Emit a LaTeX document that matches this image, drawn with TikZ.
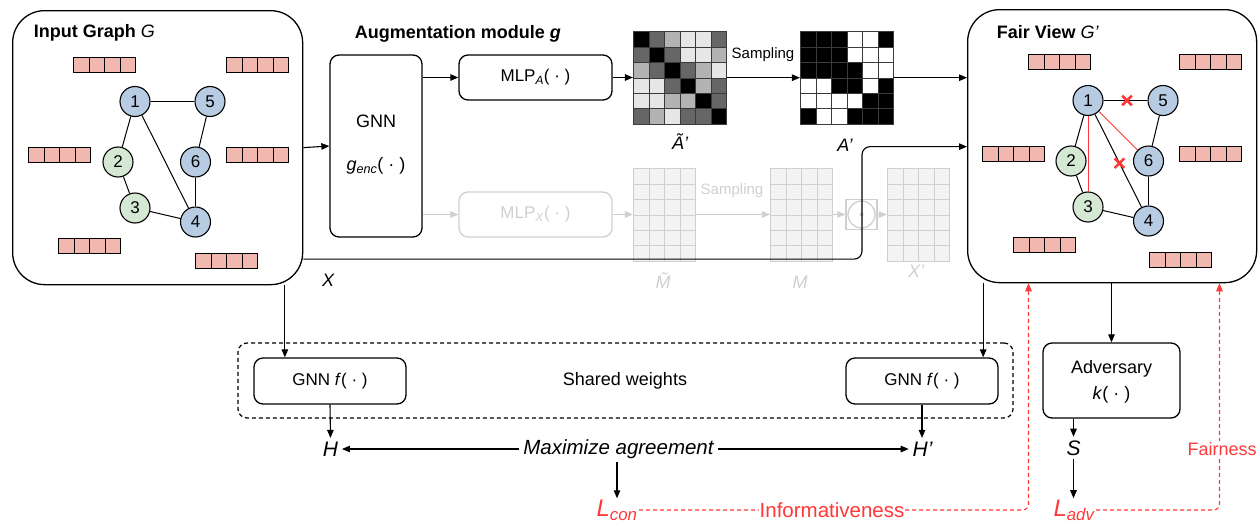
\documentclass[tikz,border=0pt]{standalone}
\usepackage{fontspec}
\setmainfont{Liberation Sans}
\usetikzlibrary{arrows.meta,calc,shapes.misc}
\definecolor{nblue}{HTML}{B7CBE3}
\definecolor{ngreen}{HTML}{D5E8D4}
\definecolor{fpink}{HTML}{F1B8B0}
\definecolor{lred}{HTML}{FF3838}
\definecolor{lgray}{HTML}{CFCFCF}
\definecolor{lfill}{HTML}{F3F3F3}
\definecolor{mgrid}{HTML}{3A3A3A}
\definecolor{mK}{HTML}{000000}
\definecolor{mB}{HTML}{666666}
\definecolor{mC}{HTML}{B3B3B3}
\definecolor{mD}{HTML}{E6E6E6}
\definecolor{mW}{HTML}{FFFFFF}
\newcommand\fsz[1]{\fontsize{#1}{#1}\selectfont}
\newcommand\featvec[2]{\foreach \k in {0,...,3}{\draw[fill=fpink, line width=1.3pt] ({#1+0.5+ceil(15.5*\k)},{#2+0.5}) rectangle ({#1+0.5+ceil(15.5*(\k+1))},{#2+15.5});}}
\begin{document}
\begin{tikzpicture}[x=1pt,y=-1pt,
  >={Triangle[length=8pt,width=6.5pt]},
  line width=1.1pt,
  arr/.style={->, line width=1.1pt},
  garr/.style={->, draw=lgray, line width=1.1pt},
  rdash/.style={draw=lred, dash pattern=on 4pt off 3pt, line width=1.1pt},
  bigbox/.style={draw, rounded corners=32pt, line width=1.3pt, anchor=north west},
  rbox/.style={draw, rounded corners=9pt, line width=1.3pt},
  gnode/.style={circle, draw, line width=1.1pt, minimum size=30pt, inner sep=0pt, font=\fsz{17}},
  gedge/.style={line width=1pt},
  ttl/.style={anchor=west, font=\bfseries\fsz{18}},
  xmark/.style={cross out, draw=lred, line width=2.6pt, minimum size=7pt, inner sep=0pt},
  gmat/.style={draw=lgray, fill=lfill, line width=1.3pt},
  mcell/.style={draw=mgrid, line width=1.1pt}
]
\useasboundingbox (0,0) rectangle (1260,522);

% ---------- Input graph ----------
\node[bigbox, minimum width=290pt, minimum height=274pt] (ig) at (12,10) {};
\node[ttl] (igt) at (30,33) {Input Graph {\mdseries\itshape G}};
\featvec{73}{57}\featvec{226}{57}\featvec{28}{147}\featvec{226}{147}\featvec{58}{238}\featvec{195}{253}

% ---------- Fair view ----------
\node[bigbox, minimum width=289pt, minimum height=273pt] (fv) at (967,9) {};
\node[ttl] (fvt) at (993,32) {Fair View {\mdseries\itshape G'}};
\featvec{1028}{54}\featvec{1179}{54}\featvec{982}{146}\featvec{1179}{146}\featvec{1013}{237}\featvec{1149}{252}

\foreach \n/\x/\y/\c in {1/135/101.5/nblue,5/210/101.5/nblue,2/118/162/ngreen,6/195.5/162/nblue,3/135/208/ngreen,4/195.5/222/nblue}{
  \node[gnode, fill=\c] (a\n) at (\x,\y) {\n};
  \node[gnode, fill=\c] (b\n) at (\x+953,\y-1) {\n};
}
\foreach \u/\v in {1/5,1/2,2/3,1/4,3/4,5/6,6/4}{
  \draw[gedge] (a\u) -- (a\v);
  \draw[gedge] (b\u) -- (b\v);
}
\draw[lred, line width=0.9pt] (b1) -- (b3);
\draw[lred, line width=0.9pt] (b1) -- (b6);
\node[xmark] (x1) at ($(b1)!0.52!(b5)$) {};
\node[xmark] (x2) at ($(b1)!0.52!(b4)$) {};

% ---------- Augmentation module ----------
\node[ttl] (augt) at (351,34) {Augmentation module {\itshape g}};
\node[rbox, minimum width=92pt, minimum height=182pt] (genc) at (376,146) {};
\node[font=\fsz{18}] (gnnt) at (376,121) {GNN};
\node[font=\fsz{18}] (genct) at (376,166) {\textit{g}\textsubscript{\textit{enc}}( · )};
\node[rbox, minimum width=153pt, minimum height=45pt, font=\fsz{17}] (mlpa) at (535.5,77.5) {MLP\textsubscript{\textit{A}}( · )};
\node[rbox, draw=lgray, text=lgray, minimum width=153pt, minimum height=45pt, font=\fsz{17}] (mlpx) at (535.5,214.5) {MLP\textsubscript{\textit{X}}( · )};

\draw[arr] (ig.east) -- (genc.west);
\draw[arr] (genc.east |- mlpa) -- (mlpa.west);
\draw[garr] (genc.east |- mlpx) -- (mlpx.west);

% ---------- matrices ----------
\foreach \row [count=\i from 0] in {{K,B,C,D,D,B},{B,K,B,D,D,C},{C,B,K,B,C,D},{D,D,B,K,C,B},{D,D,C,C,K,B},{B,C,D,B,B,K}}{
  \foreach \v [count=\j from 0] in \row {
    \draw[mcell, fill=m\v] ({633.5+ceil(15.5*\j)},{31.5+ceil(15.4*\i)}) rectangle ({633.5+ceil(15.5*(\j+1))},{31.5+ceil(15.4*(\i+1))});
  }
}
\foreach \row [count=\i from 0] in {{K,K,K,W,W,K},{K,K,K,W,W,W},{K,K,K,K,W,W},{W,W,K,K,W,K},{W,W,W,W,K,K},{K,W,W,K,K,K}}{
  \foreach \v [count=\j from 0] in \row {
    \draw[mcell, fill=m\v] ({800.5+ceil(15.5*\j)},{31.5+ceil(15.4*\i)}) rectangle ({800.5+ceil(15.5*(\j+1))},{31.5+ceil(15.4*(\i+1))});
  }
}
\node[minimum width=93pt, minimum height=92.4pt, inner sep=0pt] (mat1) at (680,77.7) {};
\node[minimum width=93pt, minimum height=92.4pt, inner sep=0pt] (mat2) at (847,77.7) {};
\foreach \x in {633,770,887}{
  \foreach \i in {0,...,5}{
    \foreach \j in {0,...,3}{
      \draw[gmat] ({\x+0.5+ceil(15.5*\j)},{168.5+ceil(15.35*\i)}) rectangle ({\x+0.5+ceil(15.5*(\j+1))},{168.5+ceil(15.35*(\i+1))});
    }
  }
}
\node[minimum width=62pt, minimum height=92pt, inner sep=0pt] (gm1) at (664.5,214.5) {};
\node[minimum width=62pt, minimum height=92pt, inner sep=0pt] (gm2) at (801.5,214.5) {};
\node[minimum width=62pt, minimum height=92pt, inner sep=0pt] (gm3) at (918.5,214.5) {};
\node[draw=lgray, line width=1.3pt, minimum width=31pt, minimum height=30pt, inner sep=0pt] (odot) at (861.5,214.5) {};
\node[circle, draw=lgray, line width=1.3pt, minimum size=27pt, inner sep=0pt] (odc) at (odot.center) {};
\fill[lgray] (odot.center) circle (2pt);

\draw[arr] (mlpa.east) -- (mlpa.east -| mat1.west);
\draw[arr] (mat1.east) -- (mat2.west);
\node[font=\fsz{15}] (samp1) at (763,55) {Sampling};
\draw[arr] (mat2.east) -- (mat2.east -| fv.west);
\node[font=\itshape\fsz{18}] (lAt) at (680,142) {\~{A}'};
\node[font=\itshape\fsz{18}] (lA) at (845,145) {A'};

\draw[garr] (mlpx.east) -- (gm1.west);
\draw[garr] (gm1.east) -- (gm2.west);
\node[font=\fsz{15}, text=lgray] (samp2) at (732,191) {Sampling};
\draw[garr] (gm2.east) -- (odot.west);
\draw[garr] (odot.east) -- (gm3.west);
\node[font=\itshape\fsz{18}, text=lgray] (lMt) at (663,281) {\~{M}};
\node[font=\itshape\fsz{18}, text=lgray] (lM) at (800,282) {M};
\node[font=\itshape\fsz{18}, text=lgray] (lXp) at (916,271) {X'};

% bypass line X
\draw[arr, rounded corners=8pt] ($(ig.east)+(0,111.5)$) -| ($(fv.west)+(-105,0.5)$) -- ($(fv.west)+(0,0.5)$);
\node[font=\itshape\fsz{18}] (lX) at (328,280) {X};

% ---------- bottom ----------
\node[draw, dash pattern=on 4pt off 3pt, rounded corners=9pt, line width=1.2pt, minimum width=775pt, minimum height=75pt] (shared) at (625.5,380.5) {};
\node[rbox, minimum width=152pt, minimum height=46pt, font=\fsz{17}] (gf1) at (330,381) {GNN \textit{f}( · )};
\node[rbox, minimum width=152pt, minimum height=46pt, font=\fsz{17}] (gf2) at (922,381) {GNN \textit{f}( · )};
\node[font=\fsz{18}] (sw) at (625,381) {Shared weights};
\coordinate (gf1p) at ($(gf1.north west)+(31.5,0)$);
\coordinate (gf2p) at ($(gf2.north east)+(-15.5,0)$);
\draw[arr] (ig.south -| gf1p) -- (gf1p);
\draw[arr] (fv.south -| gf2p) -- (gf2p);

\node[font=\itshape\fsz{21}] (H) at (330.5,449) {H};
\node[font=\itshape\fsz{21}] (Hp) at (922.5,449) {H'};
\node[font=\itshape\fsz{20.5}] (maxag) at (618.5,449) {Maximize agreement};
\draw[arr] (gf1.south) -- (H.north);
\draw[arr] (gf2.south) -- (gf2.south |- Hp.north);
\draw[arr] (maxag.west) -- (H.east);
\draw[arr] (maxag.east) -- (Hp.west);
\node[font=\itshape\fsz{24}, text=lred, inner sep=1pt] (Lcon) at (617,510) {L\textsubscript{con}};
\draw[arr] (maxag.south -| Lcon) -- (Lcon.north);

\node[rbox, minimum width=137pt, minimum height=75pt] (adv) at (1111.5,380.5) {};
\node[font=\fsz{18}] (advt) at (1111.5,369) {Adversary};
\node[font=\fsz{18}] (kt) at (1111.5,395) {\textit{k}( · )};
\draw[arr] (fv.south -| adv.north) -- (adv.north);
\node[font=\itshape\fsz{21}] (S) at (1073.5,448) {S};
\draw[arr] (adv.south -| S) -- (S.north);
\node[font=\itshape\fsz{24}, text=lred, inner sep=1pt] (Ladv) at (1074,510) {L\textsubscript{adv}};
\draw[arr] (S.south) -- (S.south |- Ladv.north);

% red feedback
\draw[rdash, ->, rounded corners=6pt] (Lcon.east) -| ($(fv.south west)+(61.5,0)$);
\draw[rdash, ->, rounded corners=6pt] (Ladv.east) -| ($(fv.south west)+(252.5,0)$);
\node[font=\fsz{20.5}, text=lred, fill=white, inner sep=1pt] (info) at (832,510) {Informativeness};
\node[font=\fsz{18}, text=lred, fill=white, inner sep=1pt] (fair) at (1222,449) {Fairness};
\end{tikzpicture}
\end{document}
